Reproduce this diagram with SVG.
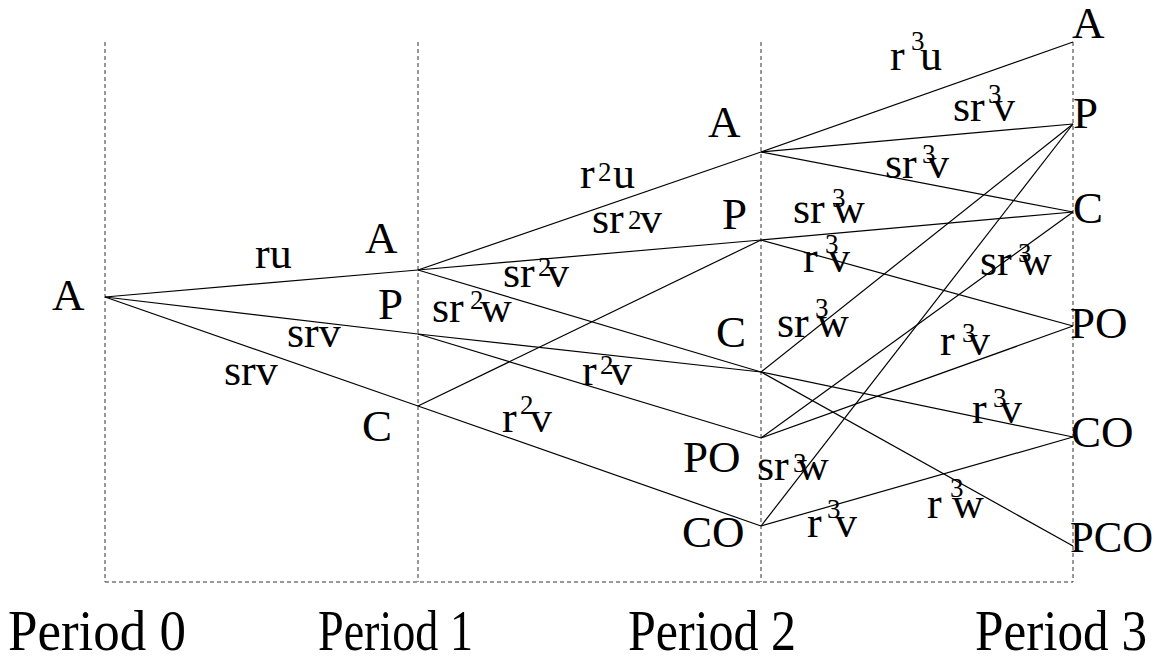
<svg xmlns="http://www.w3.org/2000/svg" width="1156" height="662" viewBox="0 0 1156 662">
<style>
.grid{stroke:#333;stroke-width:1;stroke-dasharray:4,3;fill:none}
.edge{stroke:#000;stroke-width:1.2;fill:none}
text{font-family:"Liberation Serif","Times New Roman",serif;fill:#000}
.n{font-size:45px}
.l{font-size:44px}
.s{font-size:27px}
.per{font-size:56px}
</style>
<rect width="1156" height="662" fill="#fff"/>
<g id="grid">
<line class="grid" x1="105" y1="42" x2="105" y2="582"/>
<line class="grid" x1="418" y1="42" x2="418" y2="582"/>
<line class="grid" x1="761" y1="42" x2="761" y2="582"/>
<line class="grid" x1="1073" y1="42" x2="1073" y2="582"/>
<line class="grid" x1="105" y1="582" x2="1073" y2="582"/>
</g>
<g id="connectors">
<line class="edge" x1="105" y1="297" x2="418" y2="270"/>
<line class="edge" x1="105" y1="297" x2="418" y2="334"/>
<line class="edge" x1="105" y1="297" x2="418" y2="406"/>
<line class="edge" x1="418" y1="270" x2="761" y2="152"/>
<line class="edge" x1="418" y1="270" x2="761" y2="240"/>
<line class="edge" x1="418" y1="270" x2="761" y2="372"/>
<line class="edge" x1="418" y1="334" x2="761" y2="372"/>
<line class="edge" x1="418" y1="334" x2="761" y2="438"/>
<line class="edge" x1="418" y1="406" x2="761" y2="240"/>
<line class="edge" x1="418" y1="406" x2="761" y2="526"/>
<line class="edge" x1="761" y1="152" x2="1073" y2="42"/>
<line class="edge" x1="761" y1="152" x2="1073" y2="124"/>
<line class="edge" x1="761" y1="152" x2="1073" y2="212"/>
<line class="edge" x1="761" y1="240" x2="1073" y2="212"/>
<line class="edge" x1="761" y1="240" x2="1073" y2="326"/>
<line class="edge" x1="761" y1="372" x2="1073" y2="124"/>
<line class="edge" x1="761" y1="372" x2="1073" y2="437"/>
<line class="edge" x1="761" y1="372" x2="1073" y2="546"/>
<line class="edge" x1="761" y1="438" x2="1073" y2="212"/>
<line class="edge" x1="761" y1="438" x2="1073" y2="326"/>
<line class="edge" x1="761" y1="526" x2="1073" y2="124"/>
<line class="edge" x1="761" y1="526" x2="1073" y2="437"/>
</g>
<g id="edge-labels">
<text class="l" x="255" y="268">ru</text>
<text class="l" x="287" y="347">srv</text>
<text class="l" x="224" y="385">srv</text>
<text class="l"><tspan x="432" y="322">sr</tspan><tspan class="s" x="470" y="309">2</tspan><tspan x="480" y="322">w</tspan></text>
<text class="l"><tspan x="592" y="233">sr</tspan><tspan class="s" x="628" y="229">2</tspan><tspan x="640" y="233">v</tspan></text>
<text class="l"><tspan x="503" y="287">sr</tspan><tspan class="s" x="538" y="276">2</tspan><tspan x="547" y="287">v</tspan></text>
<text class="l"><tspan x="580" y="188">r</tspan><tspan class="s" x="598" y="181">2</tspan><tspan x="613" y="188">u</tspan></text>
<text class="l"><tspan x="582" y="385">r</tspan><tspan class="s" x="600" y="374">2</tspan><tspan x="610" y="385">v</tspan></text>
<text class="l"><tspan x="502" y="432">r</tspan><tspan class="s" x="520" y="414">2</tspan><tspan x="530" y="432">v</tspan></text>
<text class="l"><tspan x="890" y="70">r</tspan><tspan class="s" x="911" y="50">3</tspan><tspan x="920" y="70">u</tspan></text>
<text class="l"><tspan x="953" y="121">sr</tspan><tspan class="s" x="988" y="103">3</tspan><tspan x="993" y="121">v</tspan></text>
<text class="l"><tspan x="885" y="178">sr</tspan><tspan class="s" x="922" y="163">3</tspan><tspan x="927" y="178">v</tspan></text>
<text class="l"><tspan x="793" y="223">sr</tspan><tspan class="s" x="832" y="207">3</tspan><tspan x="833" y="223">w</tspan></text>
<text class="l"><tspan x="803" y="272">r</tspan><tspan class="s" x="825" y="253">3</tspan><tspan x="828" y="272">v</tspan></text>
<text class="l"><tspan x="980" y="275">sr</tspan><tspan class="s" x="1018" y="262">3</tspan><tspan x="1020" y="275">w</tspan></text>
<text class="l"><tspan x="777" y="337">sr</tspan><tspan class="s" x="815" y="317">3</tspan><tspan x="817" y="337">w</tspan></text>
<text class="l"><tspan x="940" y="355">r</tspan><tspan class="s" x="962" y="342">3</tspan><tspan x="968" y="355">v</tspan></text>
<text class="l"><tspan x="972" y="423">r</tspan><tspan class="s" x="993" y="407">3</tspan><tspan x="1000" y="423">v</tspan></text>
<text class="l"><tspan x="757" y="480">sr</tspan><tspan class="s" x="793" y="472">3</tspan><tspan x="797" y="480">w</tspan></text>
<text class="l"><tspan x="807" y="537">r</tspan><tspan class="s" x="827" y="518">3</tspan><tspan x="835" y="537">v</tspan></text>
<text class="l"><tspan x="927" y="518">r</tspan><tspan class="s" x="950" y="497">3</tspan><tspan x="952" y="518">w</tspan></text>
</g>
<g id="node-p0-A"><text class="n" x="52" y="310">A</text></g>
<g id="node-p1-A"><text class="n" x="365" y="253">A</text></g>
<g id="node-p1-P"><text class="n" x="378" y="319">P</text></g>
<g id="node-p1-C"><text class="n" x="362" y="441">C</text></g>
<g id="node-p2-A"><text class="n" x="708" y="137">A</text></g>
<g id="node-p2-P"><text class="n" x="722" y="229">P</text></g>
<g id="node-p2-C"><text class="n" x="716" y="347">C</text></g>
<g id="node-p2-PO"><text class="n" x="683" y="472">PO</text></g>
<g id="node-p2-CO"><text class="n" x="682" y="547">CO</text></g>
<g id="node-p3-A"><text class="n" x="1072" y="38">A</text></g>
<g id="node-p3-P"><text class="n" x="1073" y="128">P</text></g>
<g id="node-p3-C"><text class="n" x="1073" y="223">C</text></g>
<g id="node-p3-PO"><text class="n" x="1070" y="338">PO</text></g>
<g id="node-p3-CO"><text class="n" x="1071" y="447">CO</text></g>
<g id="node-p3-PCO"><text class="n" x="1070" y="552" textLength="83" lengthAdjust="spacingAndGlyphs">PCO</text></g>
<g id="period-labels">
<text class="per" x="8" y="650" textLength="178" lengthAdjust="spacingAndGlyphs">Period 0</text>
<text class="per" x="318" y="650" textLength="155" lengthAdjust="spacingAndGlyphs">Period 1</text>
<text class="per" x="628" y="650" textLength="168" lengthAdjust="spacingAndGlyphs">Period 2</text>
<text class="per" x="975" y="650" textLength="172" lengthAdjust="spacingAndGlyphs">Period 3</text>
</g>
</svg>
